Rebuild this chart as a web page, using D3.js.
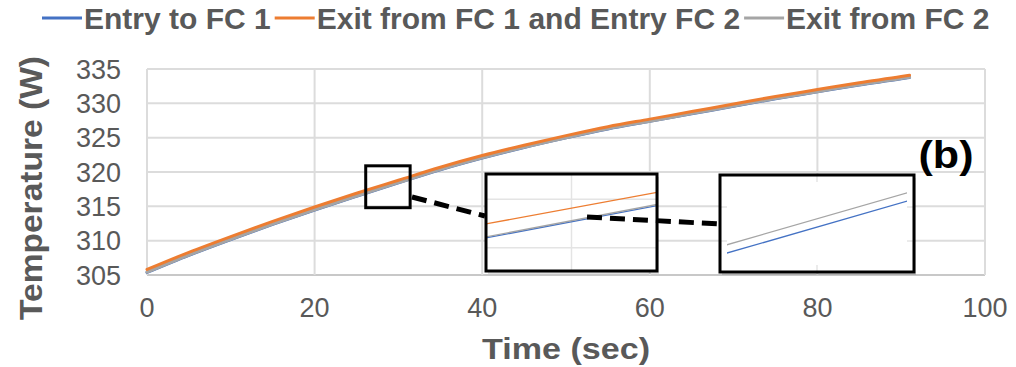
<!DOCTYPE html>
<html>
<head>
<meta charset="utf-8">
<script src="https://cdn.jsdelivr.net/npm/d3@7"></script>
<style>
  html, body { margin: 0; padding: 0; background: #fff; }
  svg { display: block; }
  text { font-family: "Liberation Sans", Arial, sans-serif; }
</style>
</head>
<body>
<svg id="chart" width="1016" height="367"></svg>
<script>
// Time samples (s)
const time = [0, 5, 10, 15, 20, 25, 30, 35, 40, 45, 50, 55, 60, 65, 70, 75, 80, 85, 90, 91];
// Temperature at each station
const entryFC1 = [305.37, 307.87, 310.17, 312.37, 314.47, 316.47, 318.42, 320.32, 322.02, 323.57,
                  324.97, 326.27, 327.37, 328.47, 329.57, 330.67, 331.67, 332.67, 333.57, 333.77];
const exitFC1EntryFC2 = [305.8, 308.3, 310.6, 312.8, 314.9, 316.9, 318.8, 320.7, 322.4, 323.9,
                         325.3, 326.6, 327.7, 328.8, 329.9, 331.0, 332.0, 333.0, 333.9, 334.1];
const exitFC2 = [305.4, 307.9, 310.2, 312.4, 314.5, 316.5, 318.45, 320.35, 322.05, 323.6,
                 325.0, 326.3, 327.4, 328.5, 329.6, 330.7, 331.7, 332.7, 333.6, 333.8];

const seriesNames = ["Entry to FC 1", "Exit from FC 1 and Entry FC 2", "Exit from FC 2"];
const seriesColors = ["#4472c4", "#ed7d31", "#a5a5a5"];

const xTicks = [0, 20, 40, 60, 80, 100];
const yTicks = [305, 310, 315, 320, 325, 330, 335];

// Magnified windows: [time range], [temperature range]
const zoomBox = { t: [26.1, 31.4], v: [314.8, 320.9] };
const zoom1 = { t: [27.6, 30.0], v: [316.53, 319.33] };
const zoom2 = { t: [28.76, 29.24], v: [317.868, 318.218] };

const svg = d3.select("#chart");

const x = d3.scaleLinear().domain([0, 100]).range([147, 985]);
const y = d3.scaleLinear().domain([305, 335]).range([275, 69]);

const data = [entryFC1, exitFC1EntryFC2, exitFC2].map((vals, i) => ({
  name: seriesNames[i], color: seriesColors[i],
  points: time.map((t, j) => ({ t, v: vals[j] }))
}));

// Gridlines
svg.append("g").selectAll("line").data(yTicks).join("line")
  .attr("x1", x(0)).attr("x2", x(100))
  .attr("y1", d => y(d)).attr("y2", d => y(d))
  .attr("stroke", d => d === 305 ? "#c8c8c8" : "#dcdcdc").attr("stroke-width", 2);
svg.append("g").selectAll("line").data(xTicks).join("line")
  .attr("y1", y(305)).attr("y2", y(335))
  .attr("x1", d => x(d)).attr("x2", d => x(d))
  .attr("stroke", "#dcdcdc").attr("stroke-width", 2);

// Tick labels
svg.append("g").selectAll("text").data(yTicks).join("text")
  .attr("x", 121).attr("y", d => y(d)).attr("dy", "0.36em")
  .attr("text-anchor", "end").attr("font-size", 27).attr("fill", "#595959")
  .text(d => d);
svg.append("g").selectAll("text").data(xTicks).join("text")
  .attr("x", d => x(d)).attr("y", 317)
  .attr("text-anchor", "middle").attr("font-size", 27).attr("fill", "#595959")
  .text(d => d);

// Axis titles
svg.append("text")
  .attr("transform", "translate(42,188) rotate(-90)")
  .attr("text-anchor", "middle").attr("font-size", 31).attr("font-weight", "bold")
  .attr("fill", "#595959").attr("textLength", 264).attr("lengthAdjust", "spacingAndGlyphs")
  .text("Temperature (W)");
svg.append("text")
  .attr("x", 566).attr("y", 359)
  .attr("text-anchor", "middle").attr("font-size", 29).attr("font-weight", "bold")
  .attr("fill", "#595959").attr("textLength", 168).attr("lengthAdjust", "spacingAndGlyphs")
  .text("Time (sec)");

// Main series (blue, grey, then orange on top)
const drawOrder = [0, 2, 1];
const mainLine = d3.line().x(d => x(d.t)).y(d => y(d.v)).curve(d3.curveMonotoneX);
svg.append("g").selectAll("path").data(drawOrder.map(i => data[i])).join("path")
  .attr("d", d => mainLine(d.points))
  .attr("fill", "none").attr("stroke", d => d.color)
  .attr("stroke-width", 3).attr("stroke-linecap", "round");

// Panel label
svg.append("text").attr("x", 946).attr("y", 168).attr("text-anchor", "middle")
  .attr("font-size", 38).attr("font-weight", "bold").attr("fill", "#000")
  .attr("font-family", "'DejaVu Sans', sans-serif")
  .attr("textLength", 55).attr("lengthAdjust", "spacingAndGlyphs")
  .text("(b)");

// Marker around the magnified region
svg.append("rect")
  .attr("x", x(zoomBox.t[0])).attr("y", y(zoomBox.v[1]))
  .attr("width", x(zoomBox.t[1]) - x(zoomBox.t[0]))
  .attr("height", y(zoomBox.v[0]) - y(zoomBox.v[1]))
  .attr("fill", "none").attr("stroke", "#000").attr("stroke-width", 3);

// Inset panels
function inset(id, box, win, seriesIdx, lineBox, gridFrac, inner) {
  const g = svg.append("g");
  g.append("rect").attr("x", box.x + 2).attr("y", box.y + 3).attr("width", box.w).attr("height", box.h)
    .attr("fill", "#000").attr("opacity", 0.12);
  g.append("rect").attr("x", box.x).attr("y", box.y).attr("width", box.w).attr("height", box.h)
    .attr("fill", "#fff");
  // faint gridlines
  gridFrac.h.forEach(f => g.append("line")
    .attr("x1", box.x).attr("x2", box.x + box.w)
    .attr("y1", box.y + f * box.h).attr("y2", box.y + f * box.h)
    .attr("stroke", "#e4e4e4").attr("stroke-width", 1.5));
  gridFrac.v.forEach(f => g.append("line")
    .attr("y1", box.y).attr("y2", box.y + box.h)
    .attr("x1", box.x + f * box.w).attr("x2", box.x + f * box.w)
    .attr("stroke", "#e4e4e4").attr("stroke-width", 1.5));
  if (inner) {
    g.append("rect").attr("x", box.x + inner).attr("y", box.y + inner)
      .attr("width", box.w - 2 * inner).attr("height", box.h - 2 * inner).attr("fill", "#fff");
  }
  const xs = d3.scaleLinear().domain(win.t).range([lineBox.x0, lineBox.x1]);
  const ys = d3.scaleLinear().domain(win.v).range([box.y + box.h, box.y]);
  g.append("clipPath").attr("id", id).append("rect")
    .attr("x", lineBox.x0).attr("y", box.y).attr("width", lineBox.x1 - lineBox.x0).attr("height", box.h);
  const ln = d3.line().x(d => xs(d.t)).y(d => ys(d.v));
  g.append("g").attr("clip-path", `url(#${id})`).selectAll("path")
    .data(seriesIdx.map(i => data[i])).join("path")
    .attr("d", d => ln(d.points))
    .attr("fill", "none").attr("stroke", d => d.color).attr("stroke-width", 1.3);
  g.append("rect").attr("x", box.x).attr("y", box.y).attr("width", box.w).attr("height", box.h)
    .attr("fill", "none").attr("stroke", "#000").attr("stroke-width", 3);
}

inset("clipA", { x: 486, y: 174, w: 171, h: 97 }, zoom1, [0, 2, 1],
  { x0: 486, x1: 657 }, { h: [0.26, 0.76], v: [0.5] }, 0);
inset("clipB", { x: 720, y: 175, w: 194, h: 97 }, zoom2, [0, 2],
  { x0: 727, x1: 907 }, { h: [0.33, 0.68], v: [0.5] }, 7);

// Dashed leaders (drawn over the insets)
const dashes = [[[412, 197], [485, 216]], [[587, 217], [720, 224]]];
svg.append("g").selectAll("path").data(dashes).join("path")
  .attr("d", d => d3.line()(d))
  .attr("stroke", "#000").attr("stroke-width", 5).attr("stroke-dasharray", "15 8").attr("fill", "none");

// Legend: entries laid out left to right
const lg = svg.append("g");
let cursor = 42;
seriesNames.forEach((name, i) => {
  lg.append("line").attr("x1", cursor).attr("x2", cursor + 40).attr("y1", 18).attr("y2", 18)
    .attr("stroke", seriesColors[i]).attr("stroke-width", 3);
  const t = lg.append("text").attr("x", cursor + 42).attr("y", 29)
    .attr("font-size", 30).attr("font-weight", "bold").attr("fill", "#595959")
    .text(name);
  cursor += 42 + t.node().getComputedTextLength() + 4;
});
</script>
</body>
</html>
